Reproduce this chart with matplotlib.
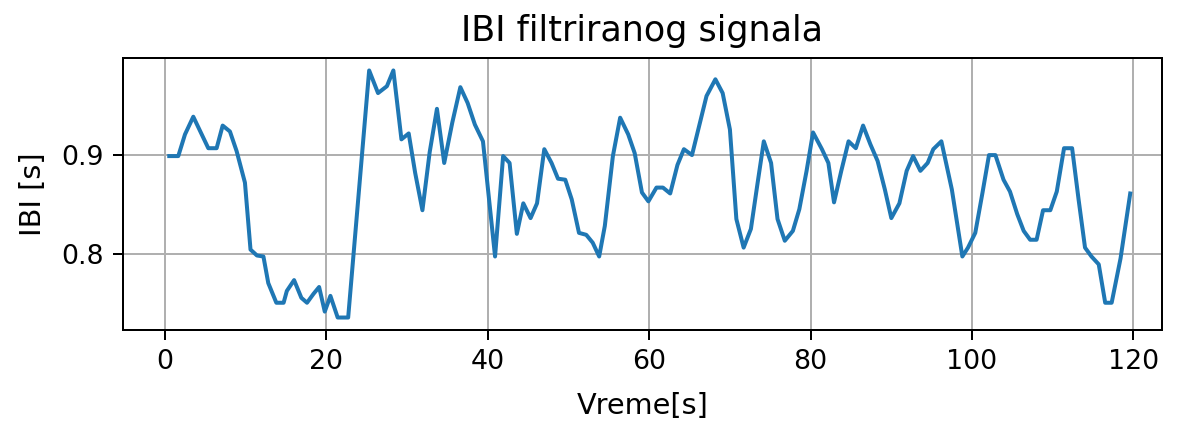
import matplotlib
matplotlib.use("Agg")
import matplotlib.pyplot as plt

# beat times [s] and IBI values [s]
vreme = [0.53, 1.65, 2.48, 3.51, 5.37, 6.4, 7.15, 8.05, 8.88, 9.91, 10.6, 11.4, 12.2,
         12.8, 13.8, 14.7, 15.1, 16.0, 16.9, 17.6, 18.4, 19.1, 19.8, 20.5, 21.4, 22.7,
         25.3, 26.4, 27.5, 28.3, 29.3, 30.2, 31.0, 31.9, 32.8, 33.7, 34.6, 35.6, 36.6,
         37.5, 38.4, 39.4, 40.9, 41.9, 42.7, 43.6, 44.4, 45.3, 46.1, 47.0, 47.9, 48.7,
         49.6, 50.4, 51.3, 52.2, 53.0, 53.8, 54.5, 55.5, 56.4, 57.4, 58.2, 59.1, 59.9,
         60.9, 61.7, 62.6, 63.5, 64.3, 65.3, 66.2, 67.1, 68.2, 69.1, 70.0, 70.8, 71.7,
         72.6, 73.4, 74.2, 75.1, 75.9, 76.8, 77.8, 78.6, 79.5, 80.3, 81.4, 82.2, 82.9,
         83.8, 84.7, 85.6, 86.5, 87.4, 88.3, 89.2, 90.0, 91.0, 91.9, 92.7, 93.6, 94.5,
         95.2, 96.2, 97.5, 98.8, 99.5, 100.4, 101.3, 102.1, 102.9, 103.9, 104.7, 105.6,
         106.4, 107.2, 108.0, 108.8, 109.7, 110.5, 111.4, 112.4, 113.2, 114.0, 114.8,
         115.7, 116.5, 117.3, 118.4, 119.6]
ibi = [0.899, 0.899, 0.921, 0.939, 0.907, 0.907, 0.930, 0.924, 0.904, 0.872, 0.804, 0.798,
       0.797, 0.770, 0.750, 0.750, 0.762, 0.773, 0.755, 0.750, 0.759, 0.766, 0.741, 0.757,
       0.735, 0.735, 0.986, 0.963, 0.970, 0.986, 0.916, 0.922, 0.882, 0.844, 0.903, 0.947,
       0.892, 0.933, 0.969, 0.953, 0.931, 0.914, 0.797, 0.899, 0.892, 0.820, 0.851, 0.836,
       0.851, 0.906, 0.892, 0.876, 0.875, 0.855, 0.821, 0.819, 0.811, 0.797, 0.828, 0.899,
       0.938, 0.921, 0.902, 0.862, 0.853, 0.867, 0.867, 0.861, 0.890, 0.906, 0.900, 0.930,
       0.960, 0.977, 0.963, 0.926, 0.835, 0.806, 0.825, 0.870, 0.914, 0.892, 0.835, 0.813,
       0.823, 0.845, 0.884, 0.923, 0.906, 0.892, 0.852, 0.884, 0.914, 0.907, 0.930, 0.911,
       0.894, 0.865, 0.836, 0.851, 0.884, 0.899, 0.884, 0.892, 0.906, 0.914, 0.865, 0.797,
       0.806, 0.821, 0.862, 0.900, 0.900, 0.875, 0.863, 0.840, 0.823, 0.814, 0.814, 0.844,
       0.844, 0.863, 0.907, 0.907, 0.855, 0.806, 0.797, 0.789, 0.750, 0.750, 0.795, 0.861]

DPI = 180
fig, ax = plt.subplots(figsize=(1177 / DPI, 424 / DPI), dpi=DPI)
fig.subplots_adjust(left=0.1045, right=0.987, top=0.863, bottom=0.222)

ax.plot(vreme, ibi, linewidth=1.6)
ax.set_xlim(-5.2, 123.5)
ax.set_yticks([0.8, 0.9])
ax.grid(True)
ax.set_title("IBI filtriranog signala", fontsize=14, pad=7)
ax.set_xlabel("Vreme[s]", fontsize=11.5, labelpad=7)
ax.set_ylabel("IBI [s]", fontsize=11.5, labelpad=6)
ax.tick_params(labelsize=10.7, length=4)

fig.savefig("out.png", dpi=DPI)
